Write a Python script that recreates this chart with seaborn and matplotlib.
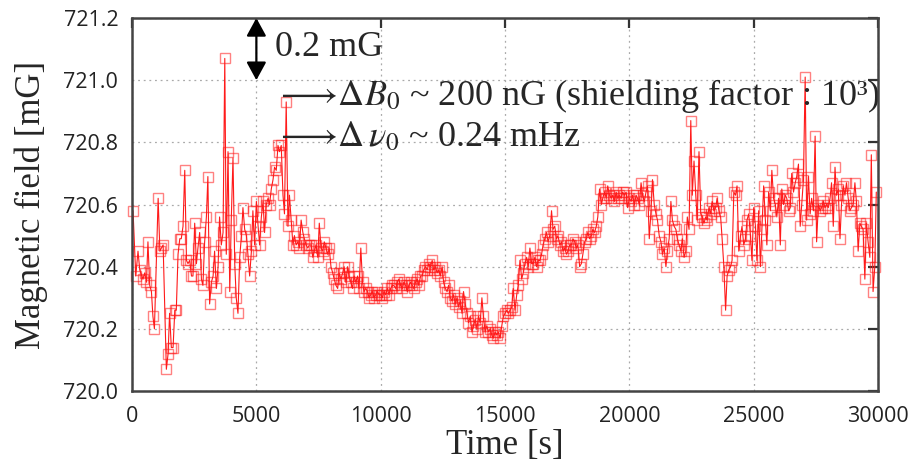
import numpy as np
import pandas as pd
import matplotlib
matplotlib.use("Agg")
import matplotlib.pyplot as plt
import seaborn as sns

# ---------------- data ----------------
time_s = [
    40, 150, 240, 310, 440, 510, 580, 640, 710, 780,
    840, 900, 1050, 1120, 1180, 1250, 1380, 1450, 1510, 1580,
    1650, 1720, 1780, 1850, 1920, 1980, 2050, 2120, 2190, 2250,
    2320, 2390, 2450, 2520, 2590, 2650, 2720, 2790, 2850, 2920,
    2990, 3050, 3120, 3190, 3260, 3320, 3390, 3460, 3520, 3590,
    3660, 3730, 3790, 3860, 3930, 3990, 4060, 4130, 4190, 4260,
    4330, 4400, 4460, 4530, 4600, 4660, 4730, 4800, 4860, 4930,
    5000, 5070, 5130, 5200, 5270, 5330, 5400, 5470, 5530, 5600, 5670, 5730, 5800, 5870, 5930,
    6000, 6070, 6130, 6200, 6270, 6330, 6400, 6470, 6530, 6600, 6670, 6730, 6800, 6870, 6930,
    7000, 7070, 7130, 7200, 7270, 7330, 7400, 7470, 7530, 7600, 7670, 7730, 7800, 7870, 7930,
    8000, 8070, 8130, 8200, 8270, 8330, 8400, 8470, 8530, 8600, 8670, 8730, 8800, 8870, 8930,
    9000, 9070, 9130, 9200, 9270, 9330, 9400, 9470, 9530, 9600, 9670, 9730, 9800, 9870, 9930,
    10000, 10070, 10130, 10200, 10270, 10330, 10400, 10470, 10530, 10600, 10670, 10730, 10800, 10870, 10930,
    11000, 11070, 11130, 11200, 11270, 11330, 11400, 11470, 11530, 11600, 11670, 11730, 11800, 11870, 11930,
    12000, 12070, 12130, 12200, 12270, 12330, 12400, 12470, 12530, 12600, 12670, 12730, 12800, 12870, 12930,
    13000, 13070, 13130, 13200, 13270, 13330, 13400, 13470, 13530, 13600, 13670, 13730, 13800, 13870, 13930,
    14000, 14070, 14130, 14200, 14270, 14330, 14400, 14470, 14530, 14600, 14670, 14730, 14800, 14870, 14930,
    15000, 15070, 15130, 15200, 15270, 15330, 15400, 15470, 15530, 15600, 15670, 15730, 15800, 15870, 15930,
    16000, 16070, 16130, 16200, 16270, 16330, 16400, 16470, 16530, 16600, 16670, 16730, 16800, 16870, 16930,
    17000, 17070, 17130, 17200, 17270, 17330, 17400, 17470, 17530, 17600, 17670, 17730, 17800, 17870, 17930,
    18000, 18070, 18130, 18200, 18270, 18330, 18400, 18470, 18530, 18600, 18670, 18730, 18800, 18870, 18930,
    19000, 19070, 19130, 19200, 19270, 19330, 19400, 19470, 19530, 19600, 19670, 19730, 19800, 19870, 19930,
    20000, 20070, 20130, 20200, 20270, 20330, 20400, 20470, 20530, 20600, 20670, 20730, 20800, 20870, 20930,
    21000, 21070, 21130, 21200, 21270, 21330, 21400, 21470, 21530, 21600, 21670, 21730, 21800, 21870, 21930,
    22000, 22070, 22130, 22200, 22270, 22330, 22400, 22470, 22530, 22600, 22670, 22730, 22800, 22870, 22930,
    23000, 23070, 23130, 23200, 23270, 23330, 23400, 23470, 23530, 23600, 23670, 23730, 23800, 23870, 23930,
    24000, 24070, 24130, 24200, 24270, 24330, 24400, 24470, 24530, 24600, 24670, 24730, 24800, 24870, 24930,
    25000, 25070, 25130, 25200, 25270, 25330, 25400, 25470, 25530, 25600, 25670, 25730, 25800, 25870, 25930,
    26000, 26070, 26130, 26200, 26270, 26330, 26400, 26470, 26530, 26600, 26670, 26730, 26800, 26870, 26930,
    27000, 27070, 27130, 27200, 27270, 27330, 27400, 27470, 27530, 27600, 27670, 27730, 27800, 27870, 27930,
    28000, 28070, 28130, 28200, 28270, 28330, 28400, 28470, 28530, 28600, 28670, 28730, 28800, 28870, 28930,
    29000, 29070, 29130, 29200, 29270, 29330, 29400, 29470, 29530, 29600, 29670, 29730, 29800, 29870, 29930,
]

field_mG = [
    720.58, 720.37, 720.45, 720.39, 720.36, 720.38, 720.35, 720.48, 720.34, 720.32,
    720.24, 720.20, 720.62, 720.45, 720.46, 720.47, 720.07, 720.12, 720.25, 720.14,
    720.14, 720.26, 720.26, 720.44, 720.49, 720.49, 720.53, 720.71, 720.42, 720.41,
    720.42, 720.37, 720.37, 720.54, 720.41, 720.46, 720.51, 720.36, 720.34, 720.48,
    720.56, 720.69, 720.28, 720.35, 720.37, 720.45, 720.33, 720.40, 720.56, 720.47,
    720.51, 721.07, 720.44, 720.77, 720.32, 720.55, 720.75, 720.41, 720.30, 720.25,
    720.43, 720.50, 720.59, 720.52, 720.50, 720.44, 720.37, 720.45, 720.58, 720.47,
    # 5000 - 9930
    720.61, 720.53, 720.47, 720.56, 720.61, 720.51, 720.60, 720.62, 720.60, 720.65, 720.68, 720.72, 720.71, 720.79, 720.77,
    720.79, 720.63, 720.57, 720.93, 720.53, 720.63, 720.55, 720.47, 720.50, 720.47, 720.48, 720.46, 720.55, 720.51, 720.49,
    720.47, 720.46, 720.47, 720.47, 720.43, 720.45, 720.47, 720.43, 720.54, 720.46, 720.45, 720.48, 720.46, 720.44, 720.46,
    720.40, 720.38, 720.36, 720.34, 720.33, 720.38, 720.36, 720.38, 720.40, 720.35, 720.40, 720.37, 720.35, 720.33, 720.37,
    720.35, 720.37, 720.33, 720.46, 720.35, 720.32, 720.33, 720.32, 720.30, 720.31, 720.32, 720.30, 720.31, 720.32, 720.31,
    # 10000 - 14930
    720.31, 720.30, 720.32, 720.31, 720.33, 720.31, 720.33, 720.34, 720.34, 720.33, 720.35, 720.36, 720.34, 720.33, 720.35,
    720.34, 720.32, 720.34, 720.35, 720.34, 720.33, 720.35, 720.36, 720.34, 720.37, 720.37, 720.39, 720.40, 720.39, 720.41,
    720.40, 720.42, 720.39, 720.40, 720.38, 720.39, 720.37, 720.40, 720.35, 720.33, 720.32, 720.34, 720.30, 720.29, 720.31,
    720.28, 720.30, 720.27, 720.29, 720.25, 720.32, 720.28, 720.25, 720.22, 720.24, 720.19, 720.21, 720.23, 720.20, 720.24,
    720.22, 720.30, 720.24, 720.19, 720.21, 720.19, 720.20, 720.18, 720.17, 720.19, 720.18, 720.19, 720.17, 720.21, 720.24,
    # 15000 - 19930
    720.25, 720.26, 720.25, 720.26, 720.27, 720.33, 720.26, 720.31, 720.34, 720.42, 720.36, 720.38, 720.41, 720.43, 720.40,
    720.46, 720.41, 720.41, 720.43, 720.40, 720.42, 720.42, 720.44, 720.47, 720.49, 720.51, 720.48, 720.50, 720.58, 720.52,
    720.53, 720.49, 720.50, 720.47, 720.48, 720.45, 720.46, 720.44, 720.45, 720.47, 720.47, 720.49, 720.48, 720.46, 720.47,
    720.40, 720.41, 720.44, 720.48, 720.49, 720.51, 720.49, 720.50, 720.52, 720.51, 720.53, 720.56, 720.65, 720.60, 720.62,
    720.64, 720.62, 720.66, 720.63, 720.62, 720.63, 720.61, 720.64, 720.62, 720.63, 720.62, 720.64, 720.63, 720.64, 720.59,
    # 20000 - 24930
    720.62, 720.61, 720.63, 720.60, 720.63, 720.62, 720.60, 720.67, 720.63, 720.61, 720.64, 720.66, 720.49, 720.58, 720.68,
    720.60, 720.57, 720.55, 720.50, 720.48, 720.44, 720.46, 720.40, 720.45, 720.49, 720.61, 720.55, 720.53, 720.52, 720.49,
    720.47, 720.45, 720.49, 720.43, 720.45, 720.56, 720.52, 720.87, 720.63, 720.74, 720.63, 720.55, 720.77, 720.57, 720.56,
    720.54, 720.56, 720.55, 720.59, 720.57, 720.61, 720.58, 720.59, 720.62, 720.58, 720.56, 720.49, 720.40, 720.26, 720.37,
    720.39, 720.40, 720.42, 720.64, 720.63, 720.66, 720.45, 720.50, 720.53, 720.47, 720.49, 720.55, 720.57, 720.50, 720.42,
    # 25000 - 29930
    720.59, 720.53, 720.42, 720.58, 720.40, 720.52, 720.66, 720.55, 720.47, 720.64, 720.58, 720.71, 720.62, 720.60, 720.56,
    720.62, 720.47, 720.65, 720.60, 720.63, 720.62, 720.58, 720.59, 720.70, 720.64, 720.67, 720.69, 720.73, 720.53, 720.60,
    720.68, 721.01, 720.55, 720.69, 720.57, 720.62, 720.58, 720.82, 720.48, 720.60, 720.58, 720.59, 720.61, 720.59, 720.60,
    720.59, 720.62, 720.67, 720.53, 720.72, 720.63, 720.65, 720.49, 720.60, 720.66, 720.63, 720.67, 720.62, 720.58, 720.59,
    720.60, 720.67, 720.61, 720.45, 720.54, 720.53, 720.52, 720.36, 720.54, 720.48, 720.43, 720.76, 720.32, 720.40, 720.64,
]

x_ticks = [0, 5000, 10000, 15000, 20000, 25000, 30000]
y_ticks = [720.0, 720.2, 720.4, 720.6, 720.8, 721.0, 721.2]
y_tick_labels = ["720.0", "720.2", "720.4", "720.6", "720.8", "721.0", "721.2"]

annot_gap = "0.2 mG"
annot_b0 = r"$\longrightarrow\!\Delta B_0$ ~ 200 nG (shielding factor : 10³)"
annot_nu0 = r"$\longrightarrow\!\Delta\,\nu_0$ ~ 0.24 mHz"

# ---------------- plot ----------------
sns.set_theme(style="white")
plt.rcParams["font.family"] = ["Liberation Serif", "DejaVu Serif"]
plt.rcParams["mathtext.fontset"] = "stix"

df = pd.DataFrame({"time": time_s, "field": field_mG})

fig = plt.figure(figsize=(9.15, 4.70), dpi=100)
ax = fig.add_axes([0.1443, 0.168, 0.9596 - 0.1443, 0.9617 - 0.168])

sns.lineplot(
    data=df, x="time", y="field", ax=ax,
    estimator=None, sort=False,
    color="#ff1a1a", linewidth=0.8,
    marker="s", markersize=7,
    markerfacecolor="none",
    markeredgecolor=(1.0, 0.1, 0.1, 0.55),
    markeredgewidth=1.0,
    clip_on=False, zorder=3,
)

ax.set_xlim(0, 30000)
ax.set_ylim(720.0, 721.2)
ax.set_xticks(x_ticks)
ax.set_xticklabels([str(t) for t in x_ticks])
ax.set_yticks(y_ticks)
ax.set_yticklabels(y_tick_labels)

tick_font = ["Open Sans", "DejaVu Sans"]
for lab in ax.get_xticklabels() + ax.get_yticklabels():
    lab.set_family(tick_font)
    lab.set_fontsize(15.5)
    lab.set_color("#222222")

ax.tick_params(axis="both", which="both", direction="in", length=7, width=1.6,
               color="#333333", top=True, right=True)
ax.tick_params(axis="x", pad=11)
ax.tick_params(axis="y", pad=10)

ax.grid(True, linestyle=(0, (1.5, 3)), color="#aaaaaa", linewidth=0.9)
for sp in ax.spines.values():
    sp.set_color("#444444")
    sp.set_linewidth(1.8)
    sp.set_zorder(4)

ax.set_xlabel("Time [s]", fontsize=25, labelpad=1)
ax.set_ylabel("Magnetic field [mG]", fontsize=25, labelpad=11)

# annotations
ax.annotate("", xy=(5000, 721.2), xytext=(5000, 721.0),
            arrowprops=dict(arrowstyle="<|-|>,head_length=0.55,head_width=0.3",
                            mutation_scale=20, color="black", lw=1.6,
                            shrinkA=0, shrinkB=0))
ax.text(5750, 721.105, annot_gap, fontsize=26, va="center", ha="left")
ax.text(5750, 720.95, annot_b0, fontsize=26, va="center", ha="left")
ax.text(5750, 720.815, annot_nu0, fontsize=26, va="center", ha="left")

fig.savefig("out.png", dpi=100)
